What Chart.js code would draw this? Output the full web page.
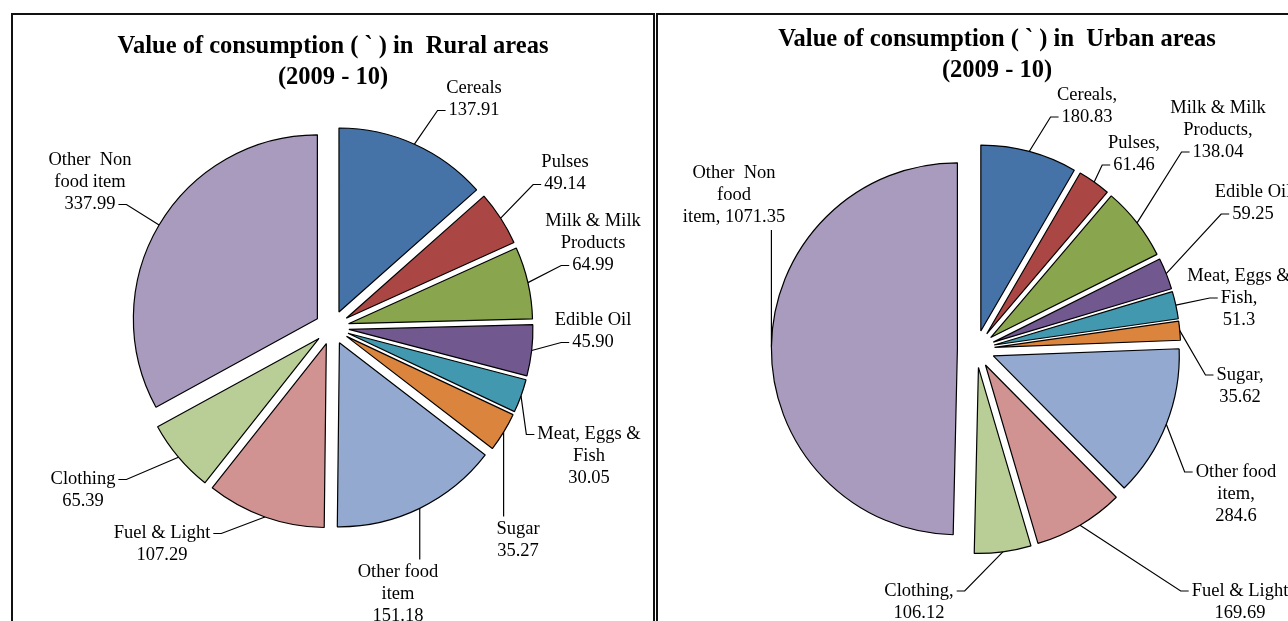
<!DOCTYPE html>
<html>
<head>
<meta charset="utf-8">
<script src="https://cdn.jsdelivr.net/npm/chart.js@4.4.1/dist/chart.umd.min.js"></script>
<style>
  html, body { margin: 0; padding: 0; background: #fff; width: 1288px; height: 621px; overflow: hidden; }
  canvas { position: absolute; top: 0; }
  #rural { left: 0; }
  #urban { left: 656px; }
  .panel { position: absolute; top: 13px; height: 660px; border: 2px solid #111; box-sizing: border-box; z-index: 2; }
  #boxL { left: 11px; width: 644px; }
  #boxR { left: 656px; width: 700px; }
</style>
</head>
<body>
<canvas id="rural" width="656" height="621"></canvas>
<canvas id="urban" width="632" height="621"></canvas>
<div class="panel" id="boxL"></div>
<div class="panel" id="boxR"></div>
<script>
// data (Rs. per person, 2009-10)
const categories = ['Cereals', 'Pulses', 'Milk & Milk Products', 'Edible Oil', 'Meat, Eggs & Fish',
  'Sugar', 'Other food item', 'Fuel & Light', 'Clothing', 'Other Non food item'];
const ruralValues = [137.91, 49.14, 64.99, 45.90, 30.05, 35.27, 151.18, 107.29, 65.39, 337.99];
const urbanValues = [180.83, 61.46, 138.04, 59.25, 51.3, 35.62, 284.6, 169.69, 106.12, 1071.35];

// how the data labels wrap ({v} = value)
const ruralLabelText = ['Cereals\n{v}', 'Pulses\n{v}', 'Milk & Milk\nProducts\n{v}', 'Edible Oil\n{v}',
  'Meat, Eggs &\nFish\n{v}', 'Sugar\n{v}', 'Other food\nitem\n{v}', 'Fuel & Light\n{v}',
  'Clothing\n{v}', 'Other  Non\nfood item\n{v}'];
const urbanLabelText = ['Cereals,\n{v}', 'Pulses,\n{v}', 'Milk & Milk\nProducts,\n{v}', 'Edible Oil\n{v}',
  'Meat, Eggs &\nFish,\n{v}', 'Sugar,\n{v}', 'Other food\nitem,\n{v}', 'Fuel & Light\n{v}',
  'Clothing,\n{v}', 'Other  Non\nfood\nitem, {v}'];

// label block centres, relative to the pie centre
const ruralLabelPos = [[142, -228], [233, -154], [261, -84], [261, 4], [257, 129],
  [186, 213], [66, 267], [-170, 217], [-249, 163], [-242, -145]];
const urbanLabelPos = [[111, -243], [158, -195], [242, -219], [277, -146], [263, -51],
  [264, 37], [260, 145], [264, 253], [-57, 253], [-242, -154]];

const colors = ['#4572A7', '#AA4643', '#89A54E', '#71588F', '#4198AF',
  '#DB843D', '#93A9CF', '#D19392', '#B9CD96', '#A99BBD'];

// pull every slice out from the centre (like Excel's exploded pie)
const explode = {
  id: 'explode',
  afterDatasetsUpdate(chart, args, opts) {
    const d = opts.distance || 0;
    chart.getDatasetMeta(0).data.forEach(arc => {
      const mid = (arc.startAngle + arc.endAngle) / 2;
      arc.x += Math.cos(mid) * d;
      arc.y += Math.sin(mid) * d;
    });
  }
};

// data labels with leader lines
const pieLabels = {
  id: 'pieLabels',
  afterDatasetsDraw(chart, args, opts) {
    const ctx = chart.ctx;
    const area = chart.chartArea;
    const cx = (area.left + area.right) / 2;
    const cy = (area.top + area.bottom) / 2;
    const values = chart.data.datasets[0].data;
    const lh = opts.lineHeight;
    ctx.save();
    ctx.font = opts.font;
    ctx.textAlign = 'center';
    ctx.textBaseline = 'middle';
    ctx.fillStyle = '#000';
    ctx.strokeStyle = '#000';
    ctx.lineWidth = 1.2;
    chart.getDatasetMeta(0).data.forEach((arc, i) => {
      const lines = opts.text[i].replace('{v}', opts.format(values[i])).split('\n');
      const lx = cx + opts.pos[i][0];
      const ly = cy + opts.pos[i][1];
      const top = ly - lines.length * lh / 2;
      const widths = lines.map(t => ctx.measureText(t).width);
      const mids = lines.map((t, k) => top + lh * (k + 0.5));
      const maxW = Math.max(...widths);
      const mid = (arc.startAngle + arc.endAngle) / 2;
      const px = arc.x + Math.cos(mid) * arc.outerRadius;
      const py = arc.y + Math.sin(mid) * arc.outerRadius;

      ctx.beginPath();
      ctx.moveTo(px, py);
      if (px > lx - maxW / 2 && px < lx + maxW / 2) {
        ctx.lineTo(px, py < top ? top - 2 : top + lines.length * lh + 2);
      } else {
        let k = 0;
        mids.forEach((m, j) => { if (Math.abs(m - py) < Math.abs(mids[k] - py)) k = j; });
        const dir = px < lx ? -1 : 1;
        const ex = lx + dir * (widths[k] / 2 + 3);
        ctx.lineTo(ex + dir * 8, mids[k]);
        ctx.lineTo(ex, mids[k]);
      }
      ctx.stroke();
      lines.forEach((t, k) => ctx.fillText(t, lx, mids[k]));
    });
    ctx.restore();
  }
};

// two-line bold heading
const heading = {
  id: 'heading',
  afterDraw(chart, args, opts) {
    const ctx = chart.ctx;
    ctx.save();
    ctx.font = opts.font;
    ctx.textAlign = 'center';
    ctx.textBaseline = 'alphabetic';
    ctx.fillStyle = '#000';
    opts.lines.forEach((t, k) => ctx.fillText(t, opts.x, opts.y + k * opts.lineHeight));
    ctx.restore();
  }
};

function makePie(id, values, cfg) {
  return new Chart(document.getElementById(id), {
    type: 'pie',
    data: {
      labels: categories,
      datasets: [{
        data: values,
        backgroundColor: colors,
        borderColor: '#000',
        borderWidth: 1.2
      }]
    },
    options: {
      responsive: false,
      animation: false,
      events: [],
      radius: cfg.radius,
      layout: { padding: cfg.padding },
      plugins: {
        legend: { display: false },
        tooltip: { enabled: false },
        explode: { distance: cfg.explode },
        pieLabels: {
          text: cfg.labelText,
          pos: cfg.labelPos,
          format: cfg.format,
          font: '18.5px "Liberation Serif", "Times New Roman", serif',
          lineHeight: 22
        },
        heading: {
          lines: cfg.title,
          x: cfg.titleX,
          y: cfg.titleY,
          lineHeight: 31,
          font: 'bold 24.5px "Liberation Serif", "Times New Roman", serif'
        }
      }
    },
    plugins: [explode, pieLabels, heading]
  });
}

makePie('rural', ruralValues, {
  radius: 184,
  explode: 17,
  padding: { left: 8, right: 0, top: 34, bottom: 0 },
  labelText: ruralLabelText,
  labelPos: ruralLabelPos,
  format: v => v.toFixed(2),
  title: ['Value of consumption ( ` ) in  Rural areas', '(2009 - 10)'],
  titleX: 333,
  titleY: 53
});

makePie('urban', urbanValues, {
  radius: 186,
  explode: 18.6,
  padding: { left: 8, right: 0, top: 77, bottom: 0 },
  labelText: urbanLabelText,
  labelPos: urbanLabelPos,
  format: v => String(v),
  title: ['Value of consumption ( ` ) in  Urban areas', '(2009 - 10)'],
  titleX: 341,
  titleY: 46
});
</script>
</body>
</html>
